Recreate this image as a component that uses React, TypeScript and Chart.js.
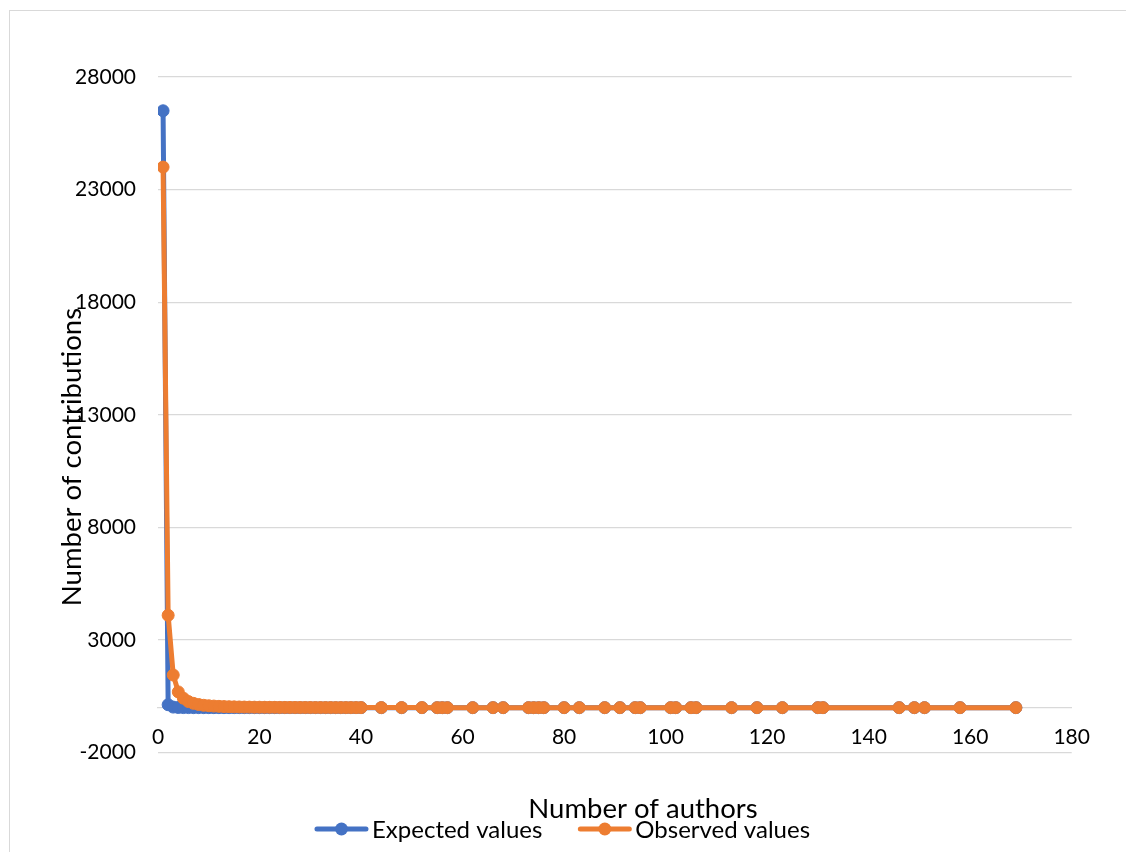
import React, { useEffect, useRef } from "react";
import { Chart, registerables } from "chart.js";

Chart.register(...registerables);

// ---- data ----
const authorsX = [
  1, 2, 3, 4, 5, 6, 7, 8, 9, 10, 11, 12, 13, 14, 15, 16, 17, 18, 19, 20,
  21, 22, 23, 24, 25, 26, 27, 28, 29, 30, 31, 32, 33, 34, 35, 36, 37, 38, 39, 40,
  44, 48, 52, 55, 56, 57, 62, 66, 68, 73, 74, 75, 76, 80, 83, 88, 91, 94, 95,
  101, 102, 105, 106, 113, 118, 123, 130, 131, 146, 149, 151, 158, 169,
];
const observedValues = [
  24000, 4100, 1450, 700, 420, 270, 190, 140, 105, 85, 70, 58, 48, 42, 36, 31, 27, 24, 21, 19,
  17, 15, 14, 12, 11, 10, 9, 8, 8, 7, 6, 6, 5, 5, 4, 4, 4, 3, 3, 3,
  2, 2, 2, 1, 1, 1, 1, 1, 1, 1, 1, 1, 1, 1, 1, 1, 1, 1, 1,
  1, 1, 1, 1, 1, 1, 1, 1, 1, 1, 1, 1, 1, 1,
];
const expectedValues = [
  26500, 130, 25, 8, 3, 2, 1, 1, 1, 0, 0, 0, 0, 0, 0, 0, 0, 0, 0, 0,
  0, 0, 0, 0, 0, 0, 0, 0, 0, 0, 0, 0, 0, 0, 0, 0, 0, 0, 0, 0,
  0, 0, 0, 0, 0, 0, 0, 0, 0, 0, 0, 0, 0, 0, 0, 0, 0, 0, 0,
  0, 0, 0, 0, 0, 0, 0, 0, 0, 0, 0, 0, 0, 0,
];
const yTickValues = [-2000, 3000, 8000, 13000, 18000, 23000, 28000];
const xTickValues = [0, 20, 40, 60, 80, 100, 120, 140, 160, 180];
const seriesNames = ["Expected values", "Observed values"];
const xTitle = "Number of authors";
const yTitle = "Number of contributions";

// ---- styles ----
const BLUE = "#4472C4";
const ORANGE = "#ED7D31";
const GRID = "#d9d9d9";
const FONT = "Lato, 'Open Sans', sans-serif";
const TICK_SIZE = 21;
const TITLE_SIZE = 27.5;
const LEGEND_SIZE = 24;
const W = 1116;
const H = 843;

const textPlugin = {
  id: "textPlugin",
  afterDraw(chart: any) {
    const ctx = chart.ctx as CanvasRenderingContext2D;
    ctx.save();
    ctx.fillStyle = "#000";
    ctx.font = `${TITLE_SIZE}px ${FONT}`;
    ctx.textAlign = "center";
    ctx.textBaseline = "alphabetic";
    ctx.fillText(xTitle, 633, 807);

    ctx.save();
    ctx.translate(71, 446);
    ctx.rotate(-Math.PI / 2);
    ctx.fillText(yTitle, 0, 0);
    ctx.restore();

    // legend
    ctx.font = `${LEGEND_SIZE}px ${FONT}`;
    ctx.textAlign = "left";
    const markerW = 53;
    const gap = 4;
    const itemGap = 36;
    const datasets = chart.data.datasets;
    const widths = datasets.map((d: any) => ctx.measureText(d.label).width);
    let total = 0;
    widths.forEach((w: number, i: number) => {
      total += markerW + gap + w + (i > 0 ? itemGap : 0);
    });
    let x = 552.5 - total / 2;
    const lineY = 818;
    datasets.forEach((d: any, i: number) => {
      ctx.strokeStyle = d.borderColor;
      ctx.lineWidth = 5;
      ctx.lineCap = "round";
      ctx.beginPath();
      ctx.moveTo(x + 2, lineY);
      ctx.lineTo(x + markerW - 2, lineY);
      ctx.stroke();
      ctx.fillStyle = d.borderColor;
      ctx.beginPath();
      ctx.arc(x + markerW / 2, lineY, 6.5, 0, Math.PI * 2);
      ctx.fill();
      ctx.fillStyle = "#000";
      ctx.fillText(d.label, x + markerW + gap, 827);
      x += markerW + gap + widths[i] + itemGap;
    });
    ctx.restore();
  },
};

export default function App() {
  const ref = useRef<HTMLCanvasElement | null>(null);

  useEffect(() => {
    if (!ref.current) return;
    const toPoints = (ys: number[]) => authorsX.map((x, i) => ({ x, y: ys[i] }));
    const chart = new Chart(ref.current, {
      type: "scatter",
      data: {
        datasets: [
          {
            label: seriesNames[0],
            data: toPoints(expectedValues),
            showLine: true,
            borderColor: BLUE,
            backgroundColor: BLUE,
            borderWidth: 5,
            pointRadius: 6,
            pointBorderWidth: 1,
            pointHoverRadius: 6,
            tension: 0,
            order: 1,
          },
          {
            label: seriesNames[1],
            data: toPoints(observedValues),
            showLine: true,
            borderColor: ORANGE,
            backgroundColor: ORANGE,
            borderWidth: 5,
            pointRadius: 6,
            pointBorderWidth: 1,
            pointHoverRadius: 6,
            tension: 0,
            order: 0,
          },
        ],
      },
      options: {
        animation: false,
        responsive: false,
        maintainAspectRatio: false,
        devicePixelRatio: 1,
        layout: { padding: { left: 0, top: 66, right: 54.3, bottom: 101.3 } },
        plugins: {
          legend: { display: false },
          tooltip: { enabled: false },
          title: { display: false },
        },
        scales: {
          x: {
            type: "linear",
            position: { y: 0 } as any,
            min: 0,
            max: 180,
            afterBuildTicks: (s: any) => {
              s.ticks = xTickValues.map((v) => ({ value: v }));
            },
            grid: { display: false, drawTicks: false },
            border: { display: true, color: GRID, width: 1.3 },
            ticks: {
              padding: 17,
              color: "#000",
              maxRotation: 0,
              autoSkip: false,
              font: { family: FONT, size: TICK_SIZE },
              callback: (v: any) => String(v),
            },
          },
          y: {
            type: "linear",
            min: -2000,
            max: 28000,
            afterBuildTicks: (s: any) => {
              s.ticks = yTickValues.map((v) => ({ value: v }));
            },
            afterFit: (s: any) => {
              s.width = 148;
            },
            grid: { color: GRID, drawTicks: false, lineWidth: 1.3 },
            border: { display: false },
            ticks: {
              padding: 22,
              color: "#000",
              autoSkip: false,
              font: { family: FONT, size: TICK_SIZE },
              callback: (v: any) => String(v),
            },
          },
        },
      },
      plugins: [textPlugin],
    });
    return () => chart.destroy();
  }, []);

  return (
    <div
      style={{
        position: "relative",
        left: 1,
        top: 2,
        width: W,
        height: H,
        borderTop: `1px solid ${GRID}`,
        borderLeft: `1px solid ${GRID}`,
      }}
    >
      <canvas ref={ref} width={W} height={H} style={{ display: "block", width: W, height: H }} />
    </div>
  );
}
